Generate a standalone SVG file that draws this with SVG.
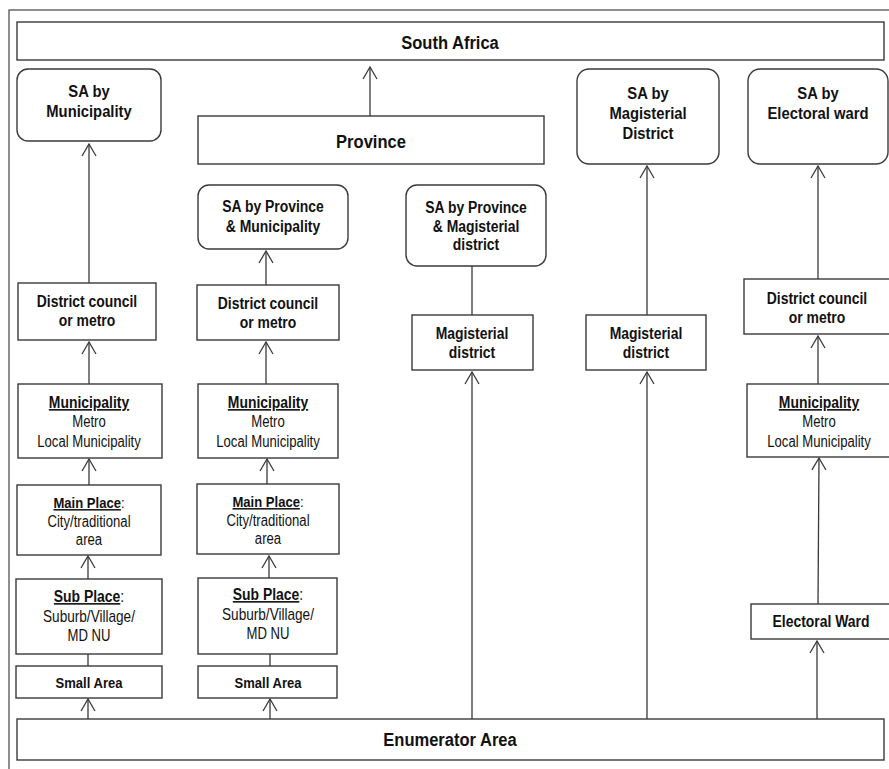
<svg xmlns="http://www.w3.org/2000/svg" width="889" height="769" viewBox="0 0 889 769">
<style>
  .box { fill: #ffffff; stroke: #3a3a3a; stroke-width: 1.4; }
  .frame { fill: #ffffff; stroke: #444; stroke-width: 1.2; }
  .conn { stroke: #3a3a3a; stroke-width: 1.3; fill: none; }
  text { font-family: "Liberation Sans", Arial, sans-serif; fill: #111; text-anchor: middle; }
  .t19 { font-size: 19px; font-weight: bold; }
  .t17 { font-size: 17px; font-weight: bold; }
  .t16 { font-size: 16px; font-weight: bold; }
  .t15 { font-size: 15px; font-weight: bold; }
  .r16 { font-size: 16px; }
  .u { text-decoration: underline; }
  .nb { font-weight: normal; text-decoration: none; }
</style>
<defs>
  <marker id="arr" markerUnits="userSpaceOnUse" markerWidth="16" markerHeight="18" viewBox="-14 -9 16 18" refX="0" refY="0" orient="auto" overflow="visible">
    <path d="M-12,-7 L0,0 L-12,7" fill="none" stroke="#3a3a3a" stroke-width="1.3"/>
  </marker>
</defs>
<rect x="0" y="0" width="889" height="769" fill="#ffffff"/>
<rect class="frame" x="9" y="10" width="900" height="800"/>

<g id="connectors">
  <line class="conn" x1="88" y1="719" x2="88" y2="699" marker-end="url(#arr)"/>
  <line class="conn" x1="88" y1="666" x2="88" y2="654"/>
  <line class="conn" x1="88" y1="579" x2="88" y2="556" marker-end="url(#arr)"/>
  <line class="conn" x1="89" y1="485" x2="89" y2="459" marker-end="url(#arr)"/>
  <line class="conn" x1="89" y1="384" x2="89" y2="342" marker-end="url(#arr)"/>
  <line class="conn" x1="89" y1="283" x2="89" y2="144" marker-end="url(#arr)"/>
  <line class="conn" x1="270" y1="719" x2="270" y2="699" marker-end="url(#arr)"/>
  <line class="conn" x1="270" y1="666" x2="270" y2="654"/>
  <line class="conn" x1="269" y1="578" x2="269" y2="556" marker-end="url(#arr)"/>
  <line class="conn" x1="267" y1="484" x2="267" y2="459" marker-end="url(#arr)"/>
  <line class="conn" x1="266" y1="384" x2="266" y2="342" marker-end="url(#arr)"/>
  <line class="conn" x1="266" y1="285" x2="266" y2="251" marker-end="url(#arr)"/>
  <line class="conn" x1="370" y1="116" x2="370" y2="67" marker-end="url(#arr)"/>
  <line class="conn" x1="472" y1="719" x2="472" y2="372" marker-end="url(#arr)"/>
  <line class="conn" x1="472" y1="315" x2="472" y2="266"/>
  <line class="conn" x1="647" y1="719" x2="647" y2="372" marker-end="url(#arr)"/>
  <line class="conn" x1="647" y1="315" x2="647" y2="166" marker-end="url(#arr)"/>
  <line class="conn" x1="817" y1="719" x2="817" y2="641" marker-end="url(#arr)"/>
  <line class="conn" x1="818" y1="604" x2="819" y2="458" marker-end="url(#arr)"/>
  <line class="conn" x1="818" y1="384" x2="818" y2="336" marker-end="url(#arr)"/>
  <line class="conn" x1="818" y1="279" x2="818" y2="166" marker-end="url(#arr)"/>
</g>

<g id="south-africa">
  <rect class="box" x="17" y="22" width="867" height="38"/>
  <text class="t19" transform="translate(450 0) scale(0.87 1)" x="0" y="49">South Africa</text>
</g>
<g id="province">
  <rect class="box" x="198" y="116" width="346" height="48"/>
  <text class="t19" transform="translate(371 0) scale(0.87 1)" x="0" y="148">Province</text>
</g>
<g id="enumerator-area">
  <rect class="box" x="17" y="719" width="867" height="41"/>
  <text class="t19" transform="translate(450 0) scale(0.87 1)" x="0" y="746">Enumerator Area</text>
</g>

<g id="sa-by-municipality">
  <rect class="box" x="17" y="69" width="144" height="72" rx="11"/>
  <text class="t17" transform="translate(89 0) scale(0.87 1)" x="0" y="97">SA by</text>
  <text class="t17" transform="translate(89 0) scale(0.87 1)" x="0" y="117">Municipality</text>
</g>
<g id="district-council-1">
  <rect class="box" x="18" y="283" width="138" height="57"/>
  <text class="t16" transform="translate(87 0) scale(0.87 1)" x="0" y="307">District council</text>
  <text class="t16" transform="translate(87 0) scale(0.87 1)" x="0" y="326">or metro</text>
</g>
<g id="municipality-1">
  <rect class="box" x="18" y="384" width="144" height="74"/>
  <text class="t16 u" transform="translate(89 0) scale(0.87 1)" x="0" y="408">Municipality</text>
  <text class="r16" transform="translate(89 0) scale(0.82 1)" x="0" y="427">Metro</text>
  <text class="r16" transform="translate(89 0) scale(0.82 1)" x="0" y="447">Local Municipality</text>
</g>
<g id="main-place-1">
  <rect class="box" x="17" y="485" width="144" height="70"/>
  <text class="t15" transform="translate(89 0) scale(0.87 1)" x="0" y="508"><tspan class="u">Main Place</tspan><tspan class="nb">:</tspan></text>
  <text class="r16" transform="translate(89 0) scale(0.82 1)" x="0" y="527">City/traditional</text>
  <text class="r16" transform="translate(89 0) scale(0.82 1)" x="0" y="545">area</text>
</g>
<g id="sub-place-1">
  <rect class="box" x="16" y="579" width="146" height="75"/>
  <text class="t16" transform="translate(89 0) scale(0.87 1)" x="0" y="602"><tspan class="u">Sub Place</tspan><tspan class="nb">:</tspan></text>
  <text class="r16" transform="translate(89 0) scale(0.85 1)" x="0" y="622">Suburb/Village/</text>
  <text class="r16" transform="translate(89 0) scale(0.82 1)" x="0" y="641">MD NU</text>
</g>
<g id="small-area-1">
  <rect class="box" x="16" y="666" width="146" height="32"/>
  <text class="t15" transform="translate(89 0) scale(0.87 1)" x="0" y="688">Small Area</text>
</g>

<g id="sa-by-province-municipality">
  <rect class="box" x="198" y="185" width="150" height="64" rx="11"/>
  <text class="t16" transform="translate(273 0) scale(0.87 1)" x="0" y="212">SA by Province</text>
  <text class="t16" transform="translate(273 0) scale(0.87 1)" x="0" y="232">&amp; Municipality</text>
</g>
<g id="district-council-2">
  <rect class="box" x="197" y="285" width="142" height="55"/>
  <text class="t16" transform="translate(268 0) scale(0.87 1)" x="0" y="309">District council</text>
  <text class="t16" transform="translate(268 0) scale(0.87 1)" x="0" y="328">or metro</text>
</g>
<g id="municipality-2">
  <rect class="box" x="198" y="384" width="140" height="74"/>
  <text class="t16 u" transform="translate(268 0) scale(0.87 1)" x="0" y="408">Municipality</text>
  <text class="r16" transform="translate(268 0) scale(0.82 1)" x="0" y="427">Metro</text>
  <text class="r16" transform="translate(268 0) scale(0.82 1)" x="0" y="447">Local Municipality</text>
</g>
<g id="main-place-2">
  <rect class="box" x="197" y="484" width="142" height="70"/>
  <text class="t15" transform="translate(268 0) scale(0.87 1)" x="0" y="507"><tspan class="u">Main Place</tspan><tspan class="nb">:</tspan></text>
  <text class="r16" transform="translate(268 0) scale(0.82 1)" x="0" y="526">City/traditional</text>
  <text class="r16" transform="translate(268 0) scale(0.82 1)" x="0" y="544">area</text>
</g>
<g id="sub-place-2">
  <rect class="box" x="198" y="578" width="139" height="76"/>
  <text class="t16" transform="translate(268 0) scale(0.87 1)" x="0" y="600"><tspan class="u">Sub Place</tspan><tspan class="nb">:</tspan></text>
  <text class="r16" transform="translate(268 0) scale(0.85 1)" x="0" y="620">Suburb/Village/</text>
  <text class="r16" transform="translate(268 0) scale(0.82 1)" x="0" y="639">MD NU</text>
</g>
<g id="small-area-2">
  <rect class="box" x="198" y="666" width="139" height="32"/>
  <text class="t15" transform="translate(268 0) scale(0.87 1)" x="0" y="688">Small Area</text>
</g>

<g id="sa-by-province-magisterial">
  <rect class="box" x="406" y="185" width="140" height="81" rx="11"/>
  <text class="t16" transform="translate(476 0) scale(0.87 1)" x="0" y="213">SA by Province</text>
  <text class="t16" transform="translate(476 0) scale(0.87 1)" x="0" y="232">&amp; Magisterial</text>
  <text class="t16" transform="translate(476 0) scale(0.87 1)" x="0" y="250">district</text>
</g>
<g id="magisterial-district-3">
  <rect class="box" x="412" y="315" width="121" height="55"/>
  <text class="t16" transform="translate(472 0) scale(0.87 1)" x="0" y="339">Magisterial</text>
  <text class="t16" transform="translate(472 0) scale(0.87 1)" x="0" y="358">district</text>
</g>

<g id="sa-by-magisterial-district">
  <rect class="box" x="577" y="69" width="142" height="95" rx="12"/>
  <text class="t17" transform="translate(648 0) scale(0.87 1)" x="0" y="99">SA by</text>
  <text class="t17" transform="translate(648 0) scale(0.87 1)" x="0" y="119">Magisterial</text>
  <text class="t17" transform="translate(648 0) scale(0.87 1)" x="0" y="139">District</text>
</g>
<g id="magisterial-district-4">
  <rect class="box" x="586" y="315" width="120" height="55"/>
  <text class="t16" transform="translate(646 0) scale(0.87 1)" x="0" y="339">Magisterial</text>
  <text class="t16" transform="translate(646 0) scale(0.87 1)" x="0" y="358">district</text>
</g>

<g id="sa-by-electoral-ward">
  <rect class="box" x="748" y="69" width="140" height="95" rx="12"/>
  <text class="t17" transform="translate(818 0) scale(0.87 1)" x="0" y="99">SA by</text>
  <text class="t17" transform="translate(818 0) scale(0.87 1)" x="0" y="119">Electoral ward</text>
</g>
<g id="district-council-5">
  <rect class="box" x="744" y="279" width="147" height="55"/>
  <text class="t16" transform="translate(817 0) scale(0.87 1)" x="0" y="304">District council</text>
  <text class="t16" transform="translate(817 0) scale(0.87 1)" x="0" y="323">or metro</text>
</g>
<g id="municipality-5">
  <rect class="box" x="747" y="384" width="146" height="73"/>
  <text class="t16 u" transform="translate(819 0) scale(0.87 1)" x="0" y="408">Municipality</text>
  <text class="r16" transform="translate(819 0) scale(0.82 1)" x="0" y="427">Metro</text>
  <text class="r16" transform="translate(819 0) scale(0.82 1)" x="0" y="447">Local Municipality</text>
</g>
<g id="electoral-ward">
  <rect class="box" x="751" y="604" width="142" height="35"/>
  <text class="t16" transform="translate(821 0) scale(0.87 1)" x="0" y="627">Electoral Ward</text>
</g>
</svg>
